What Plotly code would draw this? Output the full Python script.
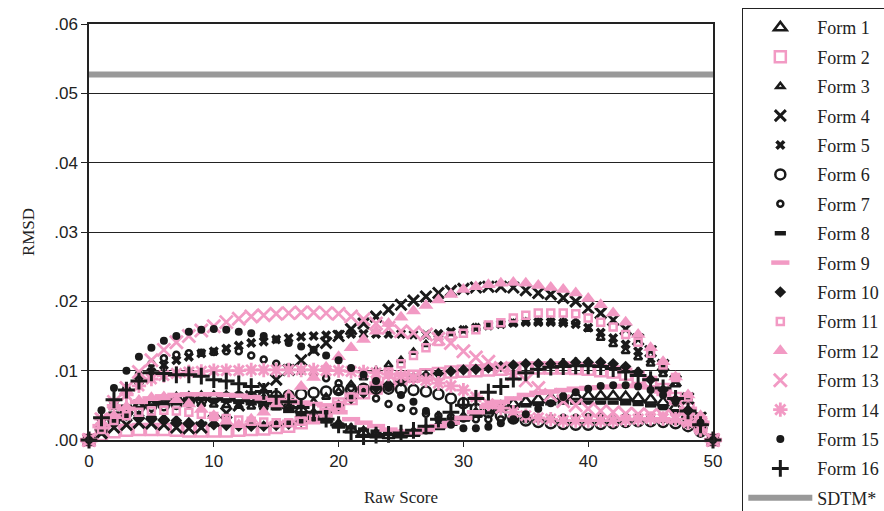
import plotly.graph_objects as go

raw_score = list(range(0, 51))

form1 = [0, 0.0018, 0.0032, 0.0042, 0.005, 0.0055, 0.0058, 0.006, 0.0061, 0.0062,
         0.0062, 0.0062, 0.0061, 0.006, 0.0058, 0.0055, 0.005, 0.0044, 0.0037, 0.003,
         0.0022, 0.0015, 0.0011, 0.0008, 0.0007, 0.0008, 0.001, 0.0014, 0.002, 0.0026,
         0.0032, 0.0038, 0.0043, 0.0048, 0.0052, 0.0055, 0.0058, 0.006, 0.0062, 0.0063,
         0.0063, 0.0063, 0.0063, 0.0062, 0.006, 0.0058, 0.0054, 0.0047, 0.0036, 0.002, 0]
form2 = [0, 0.0008, 0.0012, 0.0014, 0.0015, 0.0015, 0.0015, 0.0014, 0.0013, 0.0013,
         0.0013, 0.0013, 0.0014, 0.0015, 0.0016, 0.0018, 0.002, 0.0025, 0.0032, 0.0042,
         0.0052, 0.006, 0.0068, 0.0075, 0.0082, 0.0088, 0.0092, 0.0094, 0.0096, 0.0098,
         0.0099, 0.01, 0.0101, 0.0102, 0.0103, 0.0104, 0.0104, 0.0104, 0.0104, 0.0103,
         0.0102, 0.01, 0.0098, 0.0095, 0.009, 0.0083, 0.0073, 0.006, 0.0045, 0.0025, 0]
form3 = [0, 0.002, 0.0035, 0.0045, 0.005, 0.0053, 0.0054, 0.0054, 0.0053, 0.0052,
         0.0051, 0.005, 0.0049, 0.0048, 0.0047, 0.0047, 0.0048, 0.005, 0.0055, 0.0062,
         0.007, 0.008, 0.009, 0.01, 0.0108, 0.0115, 0.0127, 0.0138, 0.0147, 0.0154,
         0.0158, 0.0162, 0.0164, 0.0166, 0.0168, 0.017, 0.017, 0.017, 0.017, 0.017,
         0.016, 0.0147, 0.0138, 0.0128, 0.0119, 0.011, 0.0095, 0.008, 0.006, 0.0032, 0]
form4 = [0, 0.001, 0.0018, 0.0022, 0.0025, 0.0024, 0.0022, 0.0018, 0.0017, 0.0018,
         0.0028, 0.0039, 0.005, 0.0063, 0.0075, 0.0087, 0.0101, 0.0115, 0.013, 0.014,
         0.015, 0.016, 0.0168, 0.0178, 0.0188, 0.0195, 0.0201, 0.0207, 0.0212, 0.0215,
         0.0218, 0.022, 0.0221, 0.0221, 0.022, 0.0216, 0.0212, 0.021, 0.0205, 0.02,
         0.019, 0.0183, 0.0173, 0.016, 0.0145, 0.0128, 0.0108, 0.0085, 0.006, 0.0032, 0]
form5 = [0, 0.0025, 0.005, 0.007, 0.0085, 0.0098, 0.0108, 0.0115, 0.012, 0.0125,
         0.0128, 0.0132, 0.0136, 0.014, 0.0142, 0.0145, 0.0147, 0.0149, 0.015, 0.0151,
         0.0152, 0.0153, 0.0153, 0.0153, 0.0153, 0.0153, 0.0152, 0.0152, 0.0153, 0.0156,
         0.0159, 0.0162, 0.0165, 0.0167, 0.0169, 0.017, 0.017, 0.017, 0.0169, 0.0167,
         0.0162, 0.0155, 0.0147, 0.0138, 0.0128, 0.0117, 0.0102, 0.0085, 0.0062, 0.0033, 0]
form6 = [0, 0.0015, 0.003, 0.0043, 0.0047, 0.0049, 0.005, 0.0052, 0.0055, 0.0058,
         0.006, 0.0061, 0.0062, 0.0062, 0.0062, 0.0063, 0.0064, 0.0066, 0.0068, 0.007,
         0.0072, 0.0073, 0.0074, 0.0074, 0.0074, 0.0073, 0.0072, 0.007, 0.0066, 0.006,
         0.0053, 0.0045, 0.004, 0.0035, 0.0031, 0.0028, 0.0026, 0.0024, 0.0023, 0.0022,
         0.0022, 0.0023, 0.0024, 0.0026, 0.0027, 0.0027, 0.0026, 0.0024, 0.002, 0.0012, 0]
form7 = [0, 0.0025, 0.005, 0.0075, 0.0095, 0.011, 0.0118, 0.0123, 0.0125, 0.0126,
         0.0127, 0.0128, 0.0128, 0.0122, 0.0116, 0.011, 0.0105, 0.01, 0.0095, 0.0089,
         0.0082, 0.0075, 0.0068, 0.006, 0.0052, 0.0046, 0.0042, 0.0038, 0.0035, 0.0033,
         0.0031, 0.003, 0.003, 0.003, 0.003, 0.003, 0.0031, 0.0031, 0.0032, 0.0032,
         0.0033, 0.0033, 0.0033, 0.0033, 0.0033, 0.0032, 0.003, 0.0027, 0.0022, 0.0013, 0]
form8 = [0, 0.0022, 0.0038, 0.0048, 0.0055, 0.0058, 0.006, 0.006, 0.006, 0.0059,
         0.0058, 0.0057, 0.0055, 0.0053, 0.005, 0.0046, 0.0042, 0.0037, 0.0032, 0.0027,
         0.0022, 0.0018, 0.0015, 0.0012, 0.001, 0.0009, 0.001, 0.0013, 0.0018, 0.0024,
         0.003, 0.0035, 0.004, 0.0044, 0.0047, 0.005, 0.0052, 0.0053, 0.0054, 0.0054,
         0.0054, 0.0054, 0.0054, 0.0053, 0.0052, 0.005, 0.0046, 0.004, 0.003, 0.0017, 0]
form9 = [0, 0.002, 0.0035, 0.0045, 0.0055, 0.006, 0.0063, 0.0065, 0.0066, 0.0066,
         0.0066, 0.0065, 0.0064, 0.0062, 0.006, 0.0058, 0.0056, 0.0054, 0.0052, 0.005,
         0.004, 0.003, 0.0025, 0.002, 0.0015, 0.0012, 0.0011, 0.0015, 0.002, 0.0025,
         0.0032, 0.004, 0.0048, 0.0055, 0.006, 0.0065, 0.0068, 0.007, 0.0072, 0.0074,
         0.0075, 0.0076, 0.0077, 0.0078, 0.0078, 0.0076, 0.007, 0.006, 0.0045, 0.0025, 0]
form10 = [0, 0.002, 0.003, 0.0035, 0.0035, 0.0033, 0.003, 0.0028, 0.0025, 0.0023,
          0.0022, 0.0021, 0.002, 0.002, 0.002, 0.0021, 0.0023, 0.0027, 0.0032, 0.004,
          0.005, 0.006, 0.0068, 0.0075, 0.008, 0.0085, 0.009, 0.0093, 0.0096, 0.0099,
          0.0101, 0.0102, 0.0104, 0.0106, 0.0108, 0.011, 0.011, 0.011, 0.011, 0.0112,
          0.0112, 0.0112, 0.011, 0.0106, 0.0098, 0.0087, 0.0072, 0.0058, 0.0043, 0.0025, 0]
form11 = [0, 0.0015, 0.0028, 0.0035, 0.004, 0.0042, 0.0043, 0.0042, 0.004, 0.0037,
          0.0034, 0.0031, 0.0029, 0.0027, 0.0026, 0.0025, 0.0025, 0.0027, 0.003, 0.004,
          0.005, 0.0062, 0.0072, 0.0085, 0.0098, 0.011, 0.0122, 0.0133, 0.0142, 0.015,
          0.0154, 0.0159, 0.0166, 0.0169, 0.0176, 0.018, 0.0183, 0.0183, 0.0183, 0.0182,
          0.0176, 0.017, 0.0163, 0.0152, 0.0141, 0.0125, 0.0108, 0.009, 0.0062, 0.003, 0]
form12 = [0, 0.002, 0.0035, 0.0048, 0.0057, 0.0061, 0.0062, 0.0058, 0.0052, 0.0044,
          0.0035, 0.0027, 0.0022, 0.003, 0.004, 0.0052, 0.0065, 0.0077, 0.009, 0.0105,
          0.012, 0.0133, 0.0145, 0.0157, 0.0168, 0.0177, 0.0186, 0.0194, 0.0202, 0.021,
          0.0217, 0.0221, 0.0224, 0.0226, 0.0227, 0.0226, 0.0223, 0.022, 0.0217, 0.0212,
          0.0204, 0.0195, 0.0183, 0.017, 0.0152, 0.0133, 0.0113, 0.0091, 0.0065, 0.0035, 0]
form13 = [0, 0.003, 0.0055, 0.0075, 0.0098, 0.0115, 0.013, 0.0141, 0.015, 0.0158,
          0.0164, 0.017, 0.0175, 0.0178, 0.018, 0.0182, 0.0183, 0.0184, 0.0184, 0.0183,
          0.0182, 0.0178, 0.0174, 0.0168, 0.0162, 0.0157, 0.0155, 0.0152, 0.0146, 0.014,
          0.0128, 0.0119, 0.0113, 0.0104, 0.0095, 0.0086, 0.0075, 0.0065, 0.0056, 0.005,
          0.0045, 0.0042, 0.004, 0.0038, 0.0037, 0.0036, 0.0035, 0.0033, 0.003, 0.002, 0]
form14 = [0, 0.003, 0.005, 0.0065, 0.0078, 0.0088, 0.0093, 0.0096, 0.0098, 0.0099,
          0.01, 0.01, 0.01, 0.0101, 0.0101, 0.0101, 0.0101, 0.0101, 0.0101, 0.01,
          0.01, 0.0099, 0.0098, 0.0097, 0.0095, 0.0093, 0.009, 0.0086, 0.0082, 0.0078,
          0.0072, 0.0062, 0.0052, 0.0046, 0.004, 0.0035, 0.0032, 0.003, 0.0028, 0.0028,
          0.0028, 0.0028, 0.0028, 0.0029, 0.003, 0.0031, 0.0031, 0.003, 0.0025, 0.0015, 0]
form15 = [0, 0.0043, 0.0075, 0.01, 0.012, 0.0133, 0.0143, 0.015, 0.0156, 0.0159,
          0.016, 0.0159, 0.0156, 0.0154, 0.015, 0.0145, 0.014, 0.0135, 0.013, 0.0122,
          0.0115, 0.0104, 0.0094, 0.0085, 0.0075, 0.0065, 0.0055, 0.0042, 0.003, 0.0022,
          0.0017, 0.0017, 0.0019, 0.0024, 0.003, 0.0037, 0.0045, 0.0053, 0.0062, 0.0069,
          0.0074, 0.0078, 0.0079, 0.0079, 0.0077, 0.0072, 0.0065, 0.0055, 0.0042, 0.0025, 0]
form16 = [0, 0.0032, 0.0058, 0.0072, 0.0085, 0.0097, 0.0096, 0.0094, 0.0094, 0.0092,
          0.0087, 0.0085, 0.0081, 0.0077, 0.007, 0.0063, 0.0055, 0.0047, 0.004, 0.003,
          0.0022, 0.0012, 0.0005, 0.0007, 0.0008, 0.001, 0.0014, 0.002, 0.003, 0.004,
          0.005, 0.006, 0.0069, 0.0077, 0.0088, 0.0097, 0.0102, 0.0105, 0.0106, 0.0107,
          0.0107, 0.0106, 0.0103, 0.0098, 0.0093, 0.0087, 0.0075, 0.006, 0.0042, 0.0022, 0]

sdtm_x = [0, 50]
sdtm_y = [0.0527, 0.0527]

y_tick_vals = [0, 0.01, 0.02, 0.03, 0.04, 0.05, 0.06]
y_tick_text = [".00", ".01", ".02", ".03", ".04", ".05", ".06"]
x_tick_vals = [0, 10, 20, 30, 40, 50]

forms = [form1, form2, form3, form4, form5, form6, form7, form8,
         form9, form10, form11, form12, form13, form14, form15, form16]
names = ["Form %d" % i for i in range(1, 17)]

BLACK = "#1a1a1a"
PINK = "#f29ac4"

# symbol, color, size, line width
styles = [
    ("triangle-up-open", BLACK, 11, 2.5),
    ("square-open", PINK, 11, 2.5),
    ("triangle-up-open", BLACK, 7, 2.5),
    ("x-thin-open", BLACK, 11, 3),
    ("x", BLACK, 9, 0),
    ("circle-open", BLACK, 10, 2.5),
    ("circle-open", BLACK, 6, 2.5),
    ("line-ew-open", BLACK, 8, 4.5),
    ("line-ew-open", PINK, 13, 4.5),
    ("diamond", BLACK, 9, 0),
    ("square-open", PINK, 7, 2.5),
    ("triangle-up", PINK, 13, 0),
    ("x-thin-open", PINK, 13, 2.8),
    ("asterisk-open", PINK, 12, 2.8),
    ("circle", BLACK, 8, 0),
    ("cross-thin-open", BLACK, 12, 3),
]

fig = go.Figure()
for i, (vals, name, st) in enumerate(zip(forms, names, styles)):
    sym, col, size, lw = st
    marker = dict(symbol=sym, color=col, size=size)
    if lw > 0:
        marker["line"] = dict(color=col, width=lw)
    else:
        marker["line"] = dict(width=0)
    fig.add_trace(go.Scatter(x=raw_score, y=vals, mode="markers", name=name,
                             marker=marker, legendgroup=name, cliponaxis=False))

fig.add_trace(go.Scatter(x=sdtm_x, y=sdtm_y, mode="lines", name="SDTM*",
                         line=dict(color="#999999", width=6), legendgroup="sdtm"))

fig.update_layout(
    width=884, height=511,
    margin=dict(l=89, r=171, t=24, b=71, autoexpand=False),
    paper_bgcolor="white", plot_bgcolor="white",
    showlegend=True,
    legend=dict(
        x=1.047, y=1.038, xanchor="left", yanchor="top",
        bordercolor="#222222", borderwidth=1,
        font=dict(family="Liberation Serif, Times New Roman, serif", size=18, color="#222222"),
        traceorder="grouped", tracegroupgap=3.0, itemwidth=64,
        bgcolor="white", maxheight=1,
    ),
    xaxis=dict(
        range=[0, 50], tickvals=x_tick_vals, ticks="outside", ticklen=5, tickcolor="#222222",
        showgrid=False, zeroline=False, showline=True, linecolor="#222222", linewidth=1.5,
        mirror=True,
        tickfont=dict(family="Liberation Sans, Arial, sans-serif", size=17, color="#222222"),
        title=dict(text="Raw Score", font=dict(family="Liberation Serif, Times New Roman, serif", size=17, color="#222222"), standoff=21),
    ),
    yaxis=dict(
        range=[0, 0.06], tickvals=y_tick_vals, ticktext=y_tick_text, ticks="outside", ticklen=6,
        tickcolor="#222222",
        showgrid=True, gridcolor="#222222", gridwidth=1, zeroline=False,
        showline=True, linecolor="#222222", linewidth=1.5, mirror=True,
        tickfont=dict(family="Liberation Sans, Arial, sans-serif", size=17, color="#222222"),
        title=dict(text="RMSD", font=dict(family="Liberation Serif, Times New Roman, serif", size=17, color="#222222"), standoff=15),
    ),
)

fig.write_html("out.html", post_script="document.body.style.margin='0';",
               config={"displayModeBar": False})
